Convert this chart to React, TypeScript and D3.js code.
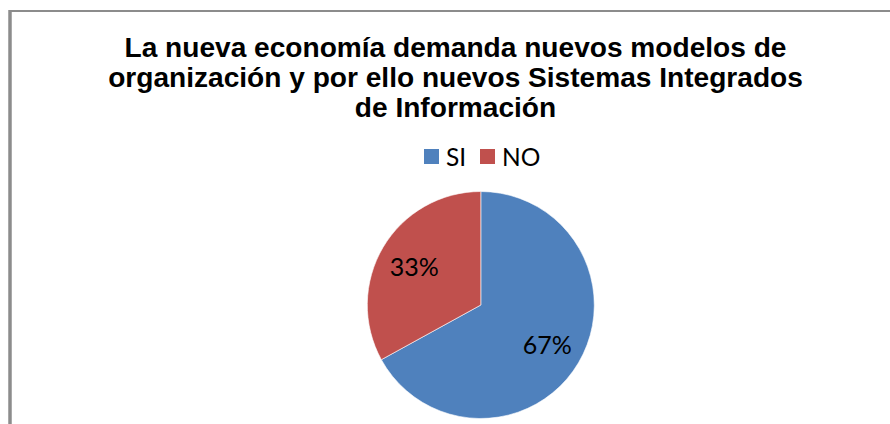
import React from "react";
import * as d3 from "d3";

const categories = ["SI", "NO"];
const values = [67, 33];
const colors = ["#4F81BD", "#C0504D"];
const titleLines = [
  "La nueva economía demanda nuevos modelos de",
  "organización y por ello nuevos Sistemas Integrados",
  "de Información",
];

const W = 890;
const H = 424;

export default function App() {
  const cx = 480.8;
  const cy = 305;
  const R = 113.5;
  const data = categories.map((c, i) => ({ c, v: values[i], color: colors[i] }));
  const pie = d3
    .pie<{ c: string; v: number; color: string }>()
    .value((d) => d.v)
    .sort(null);
  const arcs = pie(data);
  const arc = d3.arc<d3.PieArcDatum<any>>().innerRadius(0).outerRadius(R);
  const labelArc = d3.arc<d3.PieArcDatum<any>>().innerRadius(R * 0.68).outerRadius(R * 0.68);
  const total = d3.sum(values);
  const bodyFont = "Lato, 'Open Sans', sans-serif";

  const legendY = 149;
  const legendX = [424, 480];

  return (
    <svg
      width={W}
      height={H}
      style={{ position: "absolute", left: 0, top: 0, background: "#fff" }}
    >
      <rect x={0} y={0} width={W} height={H} fill="#fff" />
      <line x1={10} y1={11} x2={W} y2={11} stroke="#8c8c8c" strokeWidth={2} />
      <line x1={10} y1={10} x2={10} y2={H} stroke="#8c8c8c" strokeWidth={3.5} />

      <g fontFamily="'Liberation Sans', Arial, sans-serif" fontWeight="bold" fontSize={28.1} fill="#000" textAnchor="middle">
        {titleLines.map((t, i) => (
          <text key={i} x={455.5} y={56.7 + i * 30}>
            {t}
          </text>
        ))}
      </g>

      <g fontFamily={bodyFont} fontSize={24.5}>
        {data.map((d, i) => (
          <g key={d.c}>
            <rect x={legendX[i]} y={legendY} width={15} height={15} fill={d.color} />
            <text x={legendX[i] + 22} y={legendY + 17} fill="#000">
              {d.c}
            </text>
          </g>
        ))}
      </g>

      <g transform={`translate(${cx},${cy})`}>
        {arcs.map((a, i) => (
          <path key={i} d={arc(a) || ""} fill={a.data.color} stroke="#fff" strokeWidth={0.6} />
        ))}
        {arcs.map((a, i) => {
          const [x, y] = labelArc.centroid(a);
          return (
            <text
              key={"l" + i}
              x={x}
              y={y}
              textAnchor="middle"
              dominantBaseline="central"
              fontFamily={bodyFont}
              fontSize={25}
              fill="#000"
            >
              {Math.round((a.data.v / total) * 100)}%
            </text>
          );
        })}
      </g>
    </svg>
  );
}
